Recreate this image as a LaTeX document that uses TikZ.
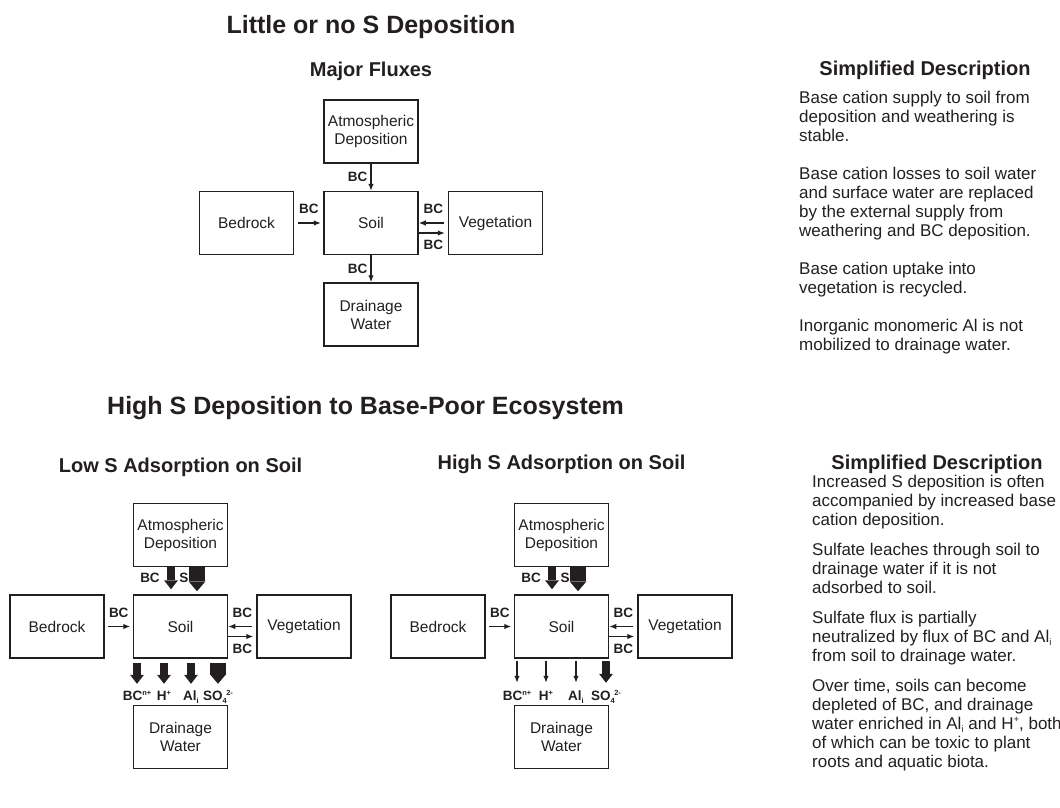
\documentclass[tikz,border=0pt]{standalone}
\usepackage{fontspec}
\usepackage{graphicx}
\setmainfont{Liberation Sans}
\usetikzlibrary{arrows.meta, positioning}
\definecolor{ink}{RGB}{35,31,32}
\newcommand{\fluxsup}[1]{\raisebox{0.42em}{\scalebox{0.55}{#1}}}
\newcommand{\fluxsub}[1]{\raisebox{-0.18em}{\scalebox{0.55}{#1}}}

\begin{document}
\begin{tikzpicture}[
  x=1pt, y=-1pt,
  box/.style={draw=ink, line width=1.5pt, minimum width=94pt, minimum height=63pt, align=center, inner sep=2pt, text=ink, font=\fontsize{15.5}{18}\selectfont},
  lbl/.style={inner sep=1.5pt, text=ink, font=\bfseries\fontsize{13.5}{14}\selectfont},
  flux/.style={draw=ink, line width=1.2pt, -{Latex[length=7pt 0 0, width=5.5pt 0 0]}},
  fatflux/.style={draw=ink, line width=8pt, -{Triangle[length=9pt 0 0, width=14pt 0 0, line width=0pt]}},
  wideflux/.style={draw=ink, line width=16pt, -{Triangle[length=10pt 0 0, width=17pt 0 0, line width=0pt]}},
  heading/.style={inner sep=0pt, text=ink, font=\bfseries\fontsize{25}{28}\selectfont},
  subhead/.style={inner sep=0pt, text=ink, font=\bfseries\fontsize{20}{22}\selectfont},
  desc/.style={anchor=north west, align=left, inner sep=0pt, text=ink, font=\fontsize{17}{19}\selectfont}
]
\useasboundingbox (0,0) rectangle (1060,808);

\node[heading] (titleA) at (371,27.5) {Little or no S Deposition};
\node[subhead] (fluxhead) at (371,71.5) {Major Fluxes};

\node[box] (soilA) at (371,223) {Soil};
\node[box, above=27pt of soilA] (atmA) {Atmospheric\\Deposition};
\node[box, left=29pt of soilA] (bedA) {Bedrock};
\node[box, right=29pt of soilA] (vegA) {Vegetation};
\node[box, below=27pt of soilA] (drainA) {Drainage\\Water};

\draw[flux] (atmA) -- node[lbl, left=1.5pt] {BC} (soilA);
\draw[flux] (soilA) -- node[lbl, left=1.5pt] {BC} (drainA);
\draw[flux, shorten <=3.5pt, shorten >=2.5pt] (bedA) -- node[lbl, above=7pt] {BC} (soilA);
\draw[flux, shorten <=4pt] (vegA) -- node[lbl, above=7pt] {BC} (soilA);
\draw[flux, shorten >=3pt] ([yshift=-10pt]soilA.east) -- node[lbl, below=5pt] {BC} ([yshift=-10pt]vegA.west);

\node[subhead] (descheadA) at (925,70) {Simplified Description};
\node[desc] (descA) at (799,91) {Base cation supply to soil from\\deposition and weathering is\\stable.\\[19pt]
  Base cation losses to soil water\\and surface water are replaced\\by the external supply from\\weathering and BC deposition.\\[19pt]
  Base cation uptake into\\vegetation is recycled.\\[19pt]
  Inorganic monomeric Al is not\\mobilized to drainage water.};

\node[heading, anchor=west] (titleB) at (107,408) {High S Deposition to Base-Poor Ecosystem};
\node[subhead] (lowhead) at (180.5,467) {Low S Adsorption on Soil};
\node[subhead] (highhead) at (561.5,464) {High S Adsorption on Soil};

\node[box] (soilB) at (180.5,626.5) {Soil};
\node[box, above=27pt of soilB] (atmB) {Atmospheric\\Deposition};
\node[box, left=28pt of soilB] (bedB) {Bedrock};
\node[box, right=28pt of soilB] (vegB) {Vegetation};
\node[box, below=46pt of soilB] (drainB) {Drainage\\Water};

\draw[fatflux, shorten >=5pt] ([xshift=-9.5pt]atmB.south) -- node[lbl, pos=0.4, xshift=-21pt] {BC} ([xshift=-9.5pt]soilB.north);
\draw[wideflux, shorten >=3pt] ([xshift=16.5pt]atmB.south) -- node[lbl, pos=0.4, xshift=-13pt] {S} ([xshift=16.5pt]soilB.north);
\draw[flux, shorten <=3.5pt, shorten >=2.5pt] (bedB) -- node[lbl, above=7pt] {BC} (soilB);
\draw[flux, shorten <=4pt] (vegB) -- node[lbl, above=7pt] {BC} (soilB);
\draw[flux, shorten >=3pt] ([yshift=-10pt]soilB.east) -- node[lbl, below=5pt] {BC} ([yshift=-10pt]vegB.west);
\draw[fatflux, shorten <=4.5pt, shorten >=21pt] ([xshift=-43.5pt]soilB.south) -- node[lbl, anchor=base, pos=1, yshift=4pt] {BC\fluxsup{n+}} ([xshift=-43.5pt]drainB.north);
\draw[fatflux, shorten <=4.5pt, shorten >=21pt] ([xshift=-16.5pt]soilB.south) -- node[lbl, anchor=base, pos=1, yshift=4pt] {H\fluxsup{+}} ([xshift=-16.5pt]drainB.north);
\draw[fatflux, shorten <=4.5pt, shorten >=21pt] ([xshift=10.5pt]soilB.south) -- node[lbl, anchor=base, pos=1, yshift=4pt] {Al\fluxsub{i}} ([xshift=10.5pt]drainB.north);
\draw[wideflux, shorten <=4.5pt, shorten >=21pt] ([xshift=37.5pt]soilB.south) -- node[lbl, anchor=base, pos=1, yshift=4pt] {SO\fluxsub{4}\kern-0.5pt\fluxsup{2-}} ([xshift=37.5pt]drainB.north);

\node[box] (soilC) at (561.5,626.5) {Soil};
\node[box, above=27pt of soilC] (atmC) {Atmospheric\\Deposition};
\node[box, left=28pt of soilC] (bedC) {Bedrock};
\node[box, right=28pt of soilC] (vegC) {Vegetation};
\node[box, below=46pt of soilC] (drainC) {Drainage\\Water};

\draw[fatflux, shorten >=5pt] ([xshift=-9.5pt]atmC.south) -- node[lbl, pos=0.4, xshift=-21pt] {BC} ([xshift=-9.5pt]soilC.north);
\draw[wideflux, shorten >=3pt] ([xshift=16.5pt]atmC.south) -- node[lbl, pos=0.4, xshift=-13pt] {S} ([xshift=16.5pt]soilC.north);
\draw[flux, shorten <=3.5pt, shorten >=2.5pt] (bedC) -- node[lbl, above=7pt] {BC} (soilC);
\draw[flux, shorten <=4pt] (vegC) -- node[lbl, above=7pt] {BC} (soilC);
\draw[flux, shorten >=3pt] ([yshift=-10pt]soilC.east) -- node[lbl, below=5pt] {BC} ([yshift=-10pt]vegC.west);
\draw[flux, shorten <=2.5pt, shorten >=22pt] ([xshift=-44.5pt]soilC.south) -- node[lbl, anchor=base, pos=1, yshift=4pt] {BC\fluxsup{n+}} ([xshift=-44.5pt]drainC.north);
\draw[flux, shorten <=2.5pt, shorten >=22pt] ([xshift=-15.5pt]soilC.south) -- node[lbl, anchor=base, pos=1, yshift=4pt] {H\fluxsup{+}} ([xshift=-15.5pt]drainC.north);
\draw[flux, shorten <=2.5pt, shorten >=22pt] ([xshift=14.5pt]soilC.south) -- node[lbl, anchor=base, pos=1, yshift=4pt] {Al\fluxsub{i}} ([xshift=14.5pt]drainC.north);
\draw[fatflux, shorten <=2.5pt, shorten >=22pt] ([xshift=44.5pt]soilC.south) -- node[lbl, anchor=base, pos=1, yshift=4pt] {SO\fluxsub{4}\kern-0.5pt\fluxsup{2-}} ([xshift=44.5pt]drainC.north);

\node[subhead] (descheadB) at (937,464) {Simplified Description};
\node[desc] (descB) at (812,475) {Increased S deposition is often\\accompanied by increased base\\cation deposition.\\[11pt]
  Sulfate leaches through soil to\\drainage water if it is not\\adsorbed to soil.\\[11pt]
  Sulfate flux is partially\\neutralized by flux of BC and Al\fluxsub{i}\\from soil to drainage water.\\[11pt]
  Over time, soils can become\\depleted of BC, and drainage\\water enriched in Al\fluxsub{i} and H\fluxsup{+}, both\\of which can be toxic to plant\\roots and aquatic biota.};
\end{tikzpicture}
\end{document}
